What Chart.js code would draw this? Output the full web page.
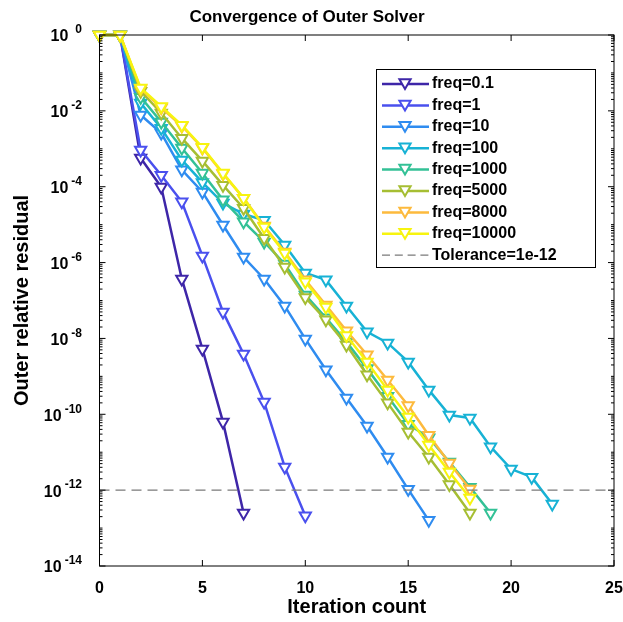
<!DOCTYPE html>
<html>
<head>
<meta charset="utf-8">
<script src="https://cdn.jsdelivr.net/npm/chart.js@4.4.1/dist/chart.umd.min.js"></script>
<style>
html,body{margin:0;padding:0;background:#fff;}
#wrap{width:623px;height:622px;}
</style>
</head>
<body>
<div id="wrap"><canvas id="c" width="623" height="622"></canvas></div>
<script>
// ---- data ----
const seriesLabels = ['freq=0.1','freq=1','freq=10','freq=100','freq=1000','freq=5000','freq=8000','freq=10000'];
const freq01   = [1, 1, 5.7e-4, 9.8e-5, 3.7e-7, 5.3e-9, 6.3e-11, 2.5e-13];
const freq1    = [1, 1, 9.3e-4, 2.0e-4, 4.0e-5, 1.5e-6, 5.0e-8, 3.9e-9, 2.1e-10, 4.1e-12, 2.1e-13];
const freq10   = [1, 1, 7.8e-3, 2.6e-3, 2.8e-4, 7.3e-5, 9.8e-6, 1.4e-6, 3.7e-7, 7.2e-8, 9.7e-9, 1.5e-9, 2.7e-10, 4.9e-11, 7.5e-12, 1.05e-12, 1.6e-13];
const freq100  = [1, 1, 1.6e-2, 3.5e-3, 5.1e-4, 1.3e-4, 3.7e-5, 1.9e-5, 1.3e-5, 2.9e-6, 5.3e-7, 3.5e-7, 7.2e-8, 1.5e-8, 7.6e-9, 2.4e-9, 4.4e-10, 9.6e-11, 8.0e-11, 1.4e-11, 3.6e-12, 2.2e-12, 4.3e-13];
const freq1000 = [1, 1, 2.3e-2, 5.1e-3, 1.05e-3, 2.3e-4, 4.5e-5, 1.2e-5, 3.5e-6, 9.2e-7, 1.4e-7, 3.5e-8, 8.1e-9, 1.6e-9, 3.0e-10, 5.5e-11, 2.4e-11, 5.5e-12, 1.2e-12, 2.5e-13];
const freq5000 = [1, 1, 3.3e-2, 8.8e-3, 1.9e-3, 4.8e-4, 1.1e-4, 2.7e-5, 4.4e-6, 7.6e-7, 1.2e-7, 3.1e-8, 6.7e-9, 1.1e-9, 2.0e-10, 3.4e-11, 7.5e-12, 1.4e-12, 2.5e-13];
const freq8000 = [1, 1, 3.8e-2, 1.2e-2, 4.0e-3, 1.05e-3, 2.2e-4, 5.0e-5, 9.2e-6, 1.9e-6, 3.5e-7, 7.6e-8, 1.6e-8, 3.7e-9, 8.0e-10, 1.7e-10, 2.8e-11, 5.2e-12, 1.07e-12];
const freq10000= [1, 1, 4.0e-2, 1.3e-2, 4.2e-3, 1.1e-3, 2.3e-4, 5.0e-5, 8.7e-6, 1.8e-6, 3.1e-7, 6.7e-8, 1.2e-8, 2.4e-9, 4.4e-10, 8.5e-11, 1.55e-11, 3.0e-12, 6.2e-13];
const tolerance = 1e-12;
const toleranceLabel = 'Tolerance=1e-12';
const xTicks = [0, 5, 10, 15, 20, 25];
const yTickExponents = [0, -2, -4, -6, -8, -10, -12, -14];

const allSeries = [freq01, freq1, freq10, freq100, freq1000, freq5000, freq8000, freq10000];
const colors = ['#3E26A8', '#4A50EE', '#2F8CF0', '#17B2D5', '#33C196', '#A6BE33', '#FDBA3D', '#F7F40F'];

const FONT = "'Liberation Sans', Arial, Helvetica, sans-serif";

const datasets = allSeries.map((vals, i) => ({
  label: seriesLabels[i],
  data: vals.map((v, k) => ({x: k, y: v})),
  borderColor: colors[i],
  backgroundColor: '#ffffff',
  borderWidth: 2.5,
  pointStyle: 'triangle',
  rotation: 180,
  pointRadius: 6.5,
  pointBorderWidth: 2,
  pointBackgroundColor: '#ffffff',
  pointBorderColor: colors[i],
  tension: 0,
  clip: false,
  order: -i
}));
datasets.push({
  label: toleranceLabel,
  data: [{x: 0, y: tolerance}, {x: 25, y: tolerance}],
  borderColor: '#7a7a7a',
  borderWidth: 1.2,
  borderDash: [10, 6],
  pointRadius: 0,
  clip: false,
  order: -20
});

function drawTri(ctx, x, y, r) {
  ctx.beginPath();
  let rad = Math.PI;
  for (let k = 0; k < 3; k++) {
    const px = x + Math.sin(rad) * r, py = y - Math.cos(rad) * r;
    if (k === 0) ctx.moveTo(px, py); else ctx.lineTo(px, py);
    rad += 2 * Math.PI / 3;
  }
  ctx.closePath();
}

const decor = {
  id: 'decor',
  afterDraw(chart) {
    const {ctx, chartArea: a, scales: {x, y}} = chart;
    ctx.save();
    // box
    ctx.strokeStyle = '#000';
    ctx.lineWidth = 1;
    ctx.strokeRect(a.left, a.top, a.right - a.left, a.bottom - a.top);
    // y ticks (inward, both sides)
    ctx.beginPath();
    for (let d = 0; d >= -14; d--) {
      for (let m = 1; m < 10; m++) {
        const v = m * Math.pow(10, d);
        if (v > 1) break;
        const py = y.getPixelForValue(v);
        const len = (m === 1 && d % 2 === 0) ? 6 : 3;
        ctx.moveTo(a.left, py); ctx.lineTo(a.left + len, py);
        ctx.moveTo(a.right, py); ctx.lineTo(a.right - len, py);
      }
    }
    xTicks.forEach(t => {
      const px = x.getPixelForValue(t);
      ctx.moveTo(px, a.bottom); ctx.lineTo(px, a.bottom - 6);
      ctx.moveTo(px, a.top); ctx.lineTo(px, a.top + 6);
    });
    ctx.stroke();
    // y tick labels 10^e
    ctx.fillStyle = '#000';
    ctx.textBaseline = 'middle';
    yTickExponents.forEach(e => {
      const py = y.getPixelForValue(Math.pow(10, e));
      const es = String(e);
      ctx.font = 'bold 12px ' + FONT;
      let ew = ctx.measureText(es).width;
      if (e >= 0) ew += ctx.measureText('-').width;
      const right = 82;
      ctx.textAlign = 'right';
      ctx.fillText(es, right, py - 5);
      ctx.font = 'bold 16px ' + FONT;
      ctx.fillText('10', right - ew - 3, py + 2);
    });
    // legend
    const lx = 376, ly = 69, lw = 219, lh = 198;
    ctx.fillStyle = '#fff';
    ctx.fillRect(lx, ly, lw, lh);
    ctx.strokeStyle = '#000';
    ctx.lineWidth = 1;
    ctx.strokeRect(lx + 0.5, ly + 0.5, lw, lh);
    const items = chart.data.datasets;
    ctx.font = 'bold 16px ' + FONT;
    ctx.textAlign = 'left';
    ctx.textBaseline = 'middle';
    items.forEach((ds, i) => {
      const ry = 84 + i * 21.4;
      ctx.save();
      ctx.strokeStyle = ds.borderColor;
      ctx.lineWidth = ds.pointRadius ? ds.borderWidth : 1.2;
      if (ds.borderDash) ctx.setLineDash(ds.borderDash.map(v => v * 0.8));
      ctx.beginPath();
      ctx.moveTo(382, ry); ctx.lineTo(429, ry);
      ctx.stroke();
      ctx.setLineDash([]);
      if (ds.pointRadius) {
        drawTri(ctx, 405, ry - 1.5, ds.pointRadius);
        ctx.fillStyle = '#fff';
        ctx.fill();
        ctx.lineWidth = ds.pointBorderWidth;
        ctx.stroke();
      }
      ctx.restore();
      ctx.fillStyle = '#000';
      ctx.fillText(ds.label, 432, ry);
    });
    ctx.restore();
  }
};

new Chart(document.getElementById('c'), {
  type: 'line',
  data: {datasets},
  plugins: [decor],
  options: {
    responsive: false,
    devicePixelRatio: 1,
    animation: false,
    layout: {padding: {left: 0, right: 9, top: 0, bottom: 0}},
    plugins: {
      legend: {display: false},
      tooltip: {enabled: false},
      title: {
        display: true,
        text: 'Convergence of Outer Solver',
        color: '#000',
        font: {family: FONT, size: 17, weight: 'bold'},
        padding: {top: 7, bottom: 7.6}
      }
    },
    scales: {
      x: {
        type: 'linear',
        min: 0, max: 25,
        afterFit(s) { s.height = 56; s.paddingLeft = 0; s.paddingRight = 0; },
        afterBuildTicks(s) { s.ticks = xTicks.map(v => ({value: v})); },
        ticks: {color: '#000', font: {family: FONT, size: 16, weight: 'bold'}, padding: 13, maxRotation: 0},
        grid: {display: false, drawTicks: false},
        border: {display: false},
        title: {display: true, text: 'Iteration count', color: '#000', font: {family: FONT, size: 20, weight: 'bold'}, padding: {top: 0, bottom: 3}}
      },
      y: {
        type: 'logarithmic',
        min: 1e-14, max: 1,
        afterFit(s) { s.width = 99.5; s.paddingTop = 0; s.paddingBottom = 0; },
        ticks: {display: false},
        grid: {display: false, drawTicks: false},
        border: {display: false},
        title: {display: true, text: 'Outer relative residual', color: '#000', font: {family: FONT, size: 20, weight: 'bold'}, padding: {top: 10, bottom: 0}}
      }
    }
  }
});
</script>
</body>
</html>
